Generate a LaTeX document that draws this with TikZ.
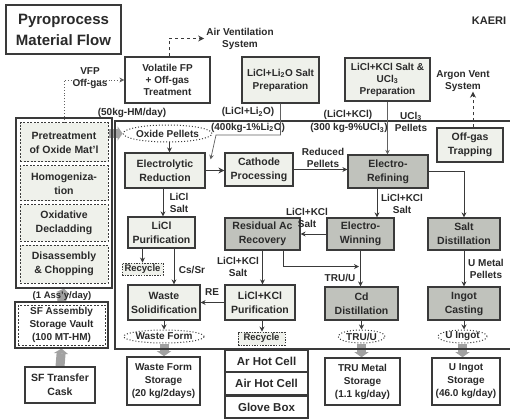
\documentclass[tikz,border=0pt]{standalone}
\usepackage{fontspec}
\setmainfont{Liberation Sans}
\usetikzlibrary{arrows.meta,calc,shapes.geometric}
\definecolor{bd}{HTML}{3A3A3A}
\definecolor{lf}{HTML}{EFF1EB}
\definecolor{df}{HTML}{C0C2BC}
\definecolor{tx}{HTML}{2A2A2A}
\definecolor{gbar}{HTML}{A2A2A2}
\pgfdeclarelayer{bg}
\pgfsetlayers{bg,main}
\begin{document}
\begin{tikzpicture}[x=1pt,y=-1pt,text=tx,
 font=\bfseries\fontsize{10.5}{14}\selectfont,
 bx/.style={draw=bd, line width=1.2pt, fill=lf, align=center, inner sep=0pt},
 dk/.style={bx, fill=df},
 wb/.style={bx, fill=white},
 st/.style={bx, fill=white, line width=1.6pt, font=\bfseries\fontsize{10}{13}\selectfont},
 dsh/.style={draw=bd, line width=1pt, dash pattern=on 2pt off 1.5pt, fill=lf, align=center, inner sep=0pt},
 ell/.style={ellipse, draw=bd, line width=1pt, dotted, fill=white, inner sep=0pt, font=\bfseries\fontsize{10}{11}\selectfont},
 rcy/.style={draw=bd, line width=0.9pt, dash pattern=on 1.5pt off 1.2pt, fill=lf, inner sep=0pt, font=\bfseries\fontsize{9.5}{11}\selectfont},
 lbl/.style={align=center, inner sep=0pt, font=\bfseries\fontsize{10}{12}\selectfont},
 arr/.style={draw=bd, line width=1pt, -{Stealth[length=5pt,width=5pt]}},
 tarr/.style={draw=bd, line width=1.6pt, -{Stealth[length=6pt,width=6pt]}},
 thin/.style={draw=bd!80, line width=0.7pt, -{Stealth[length=4.5pt,width=4.5pt]}},
 garr/.style={draw=gbar, line width=9pt, -{Triangle[length=5pt,width=14pt]}},
 hc/.style={draw=bd, line width=1.6pt, fill=white, minimum width=83pt, align=center, inner sep=0pt, font=\bfseries\fontsize{11.5}{13}\selectfont}]
\useasboundingbox (0,0) rectangle (510,419);
\begin{pgfonlayer}{bg}
\fill[white] (0,0) rectangle (510,419);
\end{pgfonlayer}

% main hot cell area
\draw[bd, line width=1.2pt] (115,121) rectangle (530,349);

% title and header
\node[wb, line width=1.8pt, minimum width=115pt, minimum height=49pt, font=\bfseries\fontsize{15}{21}\selectfont] (title) at (63.5,29.5) {Pyroprocess\\Material Flow};
\node[lbl, font=\bfseries\fontsize{11}{13}\selectfont] (kaeri) at (489,21) {KAERI};

% top boxes
\node[wb, minimum width=85pt, minimum height=46pt, font=\bfseries\fontsize{10}{12}\selectfont] (volfp) at (167.5,80) {Volatile FP\\+ Off-gas\\Treatment};
\node[bx, minimum width=77pt, minimum height=46pt, font=\bfseries\fontsize{10}{13}\selectfont] (lio) at (280.5,80) {LiCl+Li\textsubscript{2}O Salt\\Preparation};
\node[bx, minimum width=85pt, minimum height=43pt, font=\bfseries\fontsize{10}{12}\selectfont] (ucl) at (387.5,79.5) {LiCl+KCl Salt \&\\UCl\textsubscript{3}\\Preparation};
\node[lbl] (av) at (240,38.5) {Air Ventilation\\System};
\node[lbl] (argon) at (463,81) {Argon Vent\\System};
\node[bx, minimum width=66pt, minimum height=34pt] (offgas) at (470,145) {Off-gas\\Trapping};

% left column
\node[draw=bd, line width=1.2pt, minimum width=96pt, minimum height=170pt, inner sep=0pt] (lcol) at (64,203) {};
\node[dsh, minimum width=88pt, minimum height=39pt] (pre) at (64,142.5) {Pretreatment\\of Oxide Mat'l};
\node[dsh, minimum width=88pt, minimum height=35pt] (homo) at (64,183.5) {Homogeniza-\\tion};
\node[dsh, minimum width=88pt, minimum height=36pt] (oxid) at (64,223) {Oxidative\\Decladding};
\node[dsh, minimum width=88pt, minimum height=38pt] (disas) at (64,264) {Disassembly\\\& Chopping};
\node[wb, minimum width=93pt, minimum height=46pt] (vaultout) at (61.5,325) {};
\node[dsh, fill=white, minimum width=87pt, minimum height=40pt, font=\bfseries\fontsize{10}{13}\selectfont] (vault) at (61.5,325) {SF Assembly\\Storage Vault\\(100 MT-HM)};
\node[wb, minimum width=70pt, minimum height=36pt] (cask) at (60,385) {SF Transfer\\Cask};

% process boxes
\node[ell, minimum width=69pt, minimum height=17pt] (op) at (167.5,133.5) {Oxide Pellets};
\node[bx, minimum width=80pt, minimum height=35pt] (er) at (165,170.5) {Electrolytic\\Reduction};
\node[bx, minimum width=68pt, minimum height=33pt] (cp) at (259,169.5) {Cathode\\Processing};
\node[dk, minimum width=80pt, minimum height=33pt] (eref) at (388,171.5) {Electro-\\Refining};
\node[bx, minimum width=67pt, minimum height=31pt] (licl) at (161.5,232.5) {LiCl\\Purification};
\node[dk, minimum width=75pt, minimum height=32pt] (rar) at (262.5,234) {Residual Ac\\Recovery};
\node[dk, minimum width=67pt, minimum height=32pt] (ew) at (360.5,234) {Electro-\\Winning};
\node[dk, minimum width=72pt, minimum height=32pt] (sd) at (464,234) {Salt\\Distillation};
\node[rcy, minimum width=41pt, minimum height=12pt] (rc1) at (142.5,269) {Recycle};
\node[bx, minimum width=72pt, minimum height=35pt] (ws) at (164,302.5) {Waste\\Solidification};
\node[bx, minimum width=70pt, minimum height=35pt] (lkp) at (260,302.5) {LiCl+KCl\\Purification};
\node[dk, minimum width=73pt, minimum height=33pt] (cd) at (361.5,303.5) {Cd\\Distillation};
\node[dk, minimum width=72pt, minimum height=33pt] (ic) at (464,303.5) {Ingot\\Casting};
\node[rcy, minimum width=47pt, minimum height=13pt] (rc2) at (261.5,338.5) {Recycle};
\node[ell, minimum width=72pt, minimum height=13pt] (wf) at (164,336.5) {Waste Form};
\node[ell, minimum width=47pt, minimum height=13pt] (tru) at (361.5,336.5) {TRU/U};
\node[ell, minimum width=49pt, minimum height=13pt] (ui) at (462.5,336.5) {U Ingot};

% storage
\node[st, minimum width=73pt, minimum height=48pt] (wfs) at (163.5,381) {Waste Form\\Storage\\(20 kg/2days)};
\node[st, minimum width=75pt, minimum height=47pt] (tms) at (362.5,381.5) {TRU Metal\\Storage\\(1.1 kg/day)};
\node[st, minimum width=68pt, minimum height=47pt] (uis) at (466,381.5) {U Ingot\\Storage\\(46.0 kg/day)};
\node[hc, minimum height=22pt] (arhc) at (266.5,361) {Ar Hot Cell};
\node[hc, minimum height=23pt] (airhc) at (266.5,383.5) {Air Hot Cell};
\node[hc, minimum height=22pt] (glove) at (266.5,407) {Glove Box};

% labels
\node[lbl] (vfpl) at (90,78.5) {VFP\\Off-gas};
\node[lbl] (hml) at (132,113) {(50kg-HM/day)};
\node[lbl] (l1) at (248,112) {(LiCl+Li\textsubscript{2}O)};
\node[lbl] (l2) at (248,127.5) {(400kg-1\%Li\textsubscript{2}O)};
\node[lbl] (l3) at (348,115) {(LiCl+KCl)};
\node[lbl] (l4) at (349,128) {(300 kg-9\%UCl\textsubscript{3})};
\node[lbl] (l5) at (411,121.5) {UCl\textsubscript{3}\\Pellets};
\node[lbl] (l6) at (323,157.5) {Reduced\\Pellets};
\node[lbl] (l7) at (179,202.5) {LiCl\\Salt};
\node[lbl] (l8) at (402,204) {LiCl+KCl\\Salt};
\node[lbl] (l9) at (307,217.5) {LiCl+KCl\\Salt};
\node[lbl] (l10) at (238,267) {LiCl+KCl\\Salt};
\node[lbl] (l11) at (192,270) {Cs/Sr};
\node[lbl] (l12) at (212,292) {RE};
\node[lbl] (l13) at (340,278) {TRU/U};
\node[lbl] (l14) at (486,269) {U Metal\\Pellets};
\node[lbl, font=\bfseries\fontsize{9.5}{11}\selectfont] (assy) at (62,296) {(1 Ass'y/day)};

% gray transfer arrows (behind)
\begin{pgfonlayer}{bg}
\draw[garr] (pre.east |- op.west) -- (op.west);
\draw[garr] (vaultout.north) -- (lcol.south);
\draw[garr] (cask.north) -- (vaultout.south);
\draw[garr] (wf.south) -- (wf.south |- wfs.north);
\draw[garr] (tru.south) -- (tru.south |- tms.north);
\draw[garr] (ui.south) -- (ui.south |- uis.north);
\end{pgfonlayer}

% vent / off-gas lines
\draw[draw=bd!80, line width=0.9pt, dotted, -{Stealth[length=5pt,width=5pt]}] (pre.north) |- (volfp.west);
\draw[draw=bd, line width=1pt, dashed, -{Stealth[length=6pt,width=6pt]}] ([xshift=1.5pt]volfp.north) |- ([xshift=-2pt]av.west);
\draw[draw=bd, line width=1pt, dashed, -{Stealth[length=6pt,width=6pt]}] ([xshift=3pt]offgas.north) -- ([xshift=3pt]offgas.north |- argon.south);

% salt feeds
\draw[thin] (lio.south) |- (216,135) -- ([xshift=5pt,yshift=-7pt]er.north east);
\draw[thin] (ucl.south) -- (ucl.south |- eref.north);

% process flow
\draw[arr] ([xshift=2pt]op.south) -- ([xshift=2pt]op.south |- er.north);
\draw[tarr] (er.east) -- (er.east -| cp.west);
\draw[arr] (cp.east) -- (cp.east -| eref.west);
\draw[arr] (eref.east) -| (sd.north);
\draw[arr] ([xshift=-11pt]eref.south) -- ([xshift=-11pt]eref.south |- ew.north);
\draw[arr] (ew.west) -- (rar.east);
\draw[arr] (rar.south) -- (rar.south |- lkp.north);
\draw[arr] ([xshift=20.5pt]rar.south) |- ($(ew.south)+(-1.5,16)$);
\draw[arr] (ew.south) -- (ew.south |- cd.north);
\draw[arr] ([xshift=-2pt]er.south) -- ([xshift=-2pt]er.south |- licl.north);
\draw[arr] (licl.south -| rc1.north) -- (rc1.north);
\draw[arr] ([xshift=12.5pt]licl.south) -- ([xshift=12.5pt]licl.south |- ws.north);
\draw[arr] (lkp.west) -- (lkp.west -| ws.east);
\draw[arr] ([xshift=2pt]lkp.south) -- ([xshift=2pt]lkp.south |- rc2.north);
\draw[arr] (ws.south) -- (wf.north);
\draw[arr] (sd.south) -- (ic.north);
\draw[arr] (cd.south) -- (tru.north);
\draw[arr] (ic.south) -- (ic.south |- ui.north);
\end{tikzpicture}
\end{document}
